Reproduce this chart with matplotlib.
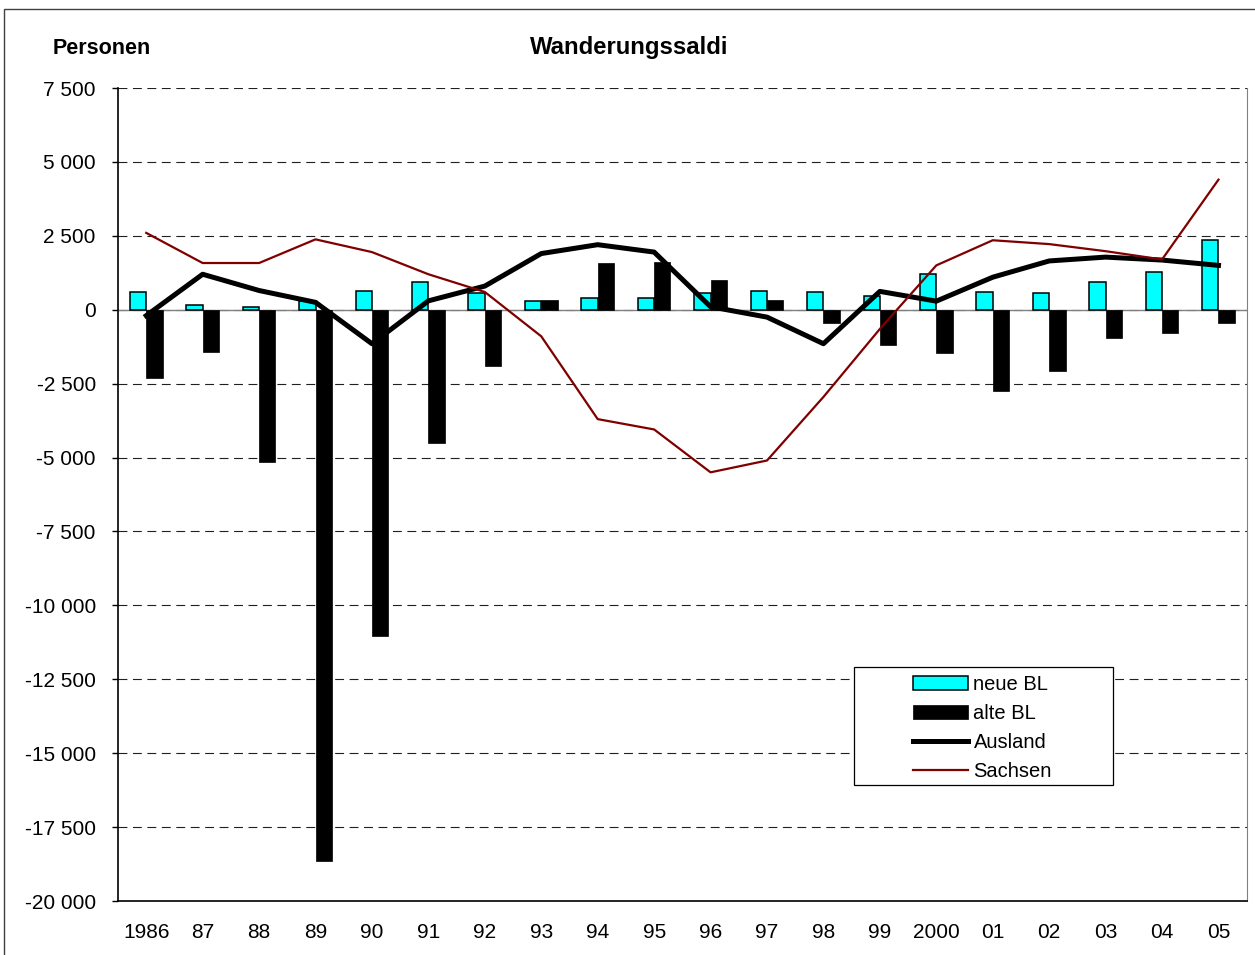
import numpy as np
import matplotlib
matplotlib.use("Agg")
import matplotlib.pyplot as plt
from matplotlib.patches import Rectangle
from matplotlib.ticker import FuncFormatter, MultipleLocator

plt.rcParams['font.family'] = ['Liberation Sans', 'DejaVu Sans']

# data
years = ["1986", "87", "88", "89", "90", "91", "92", "93", "94", "95",
         "96", "97", "98", "99", "2000", "01", "02", "03", "04", "05"]
neue_bl = [600, 150, 100, 300, 650, 950, 550, 300, 400, 380,
           550, 620, 600, 450, 1200, 600, 560, 940, 1260, 2350]
alte_bl = [-2300, -1430, -5150, -18650, -11030, -4510, -1900, 330, 1570, 1600,
           1000, 320, -450, -1200, -1450, -2750, -2080, -950, -800, -450]
ausland = [-200, 1200, 650, 250, -1150, 300, 800, 1900, 2200, 1950,
           100, -250, -1150, 620, 290, 1100, 1650, 1780, 1680, 1500]
sachsen = [2600, 1580, 1580, 2380, 1950, 1200, 600, -900, -3700, -4050,
           -5500, -5100, -2950, -650, 1500, 2350, 2220, 1980, 1700, 4400]

fig = plt.figure(figsize=(12.55, 9.55), dpi=100)
ax = fig.add_axes([118 / 1255, 1 - 901 / 955, 1128.7 / 1255, 813 / 955])

x = np.arange(len(years))
w = 0.29
b1 = ax.bar(x - w / 2, neue_bl, w, color='#00FFFF', edgecolor='black', linewidth=1.1,
            label='neue BL', zorder=2)
b2 = ax.bar(x + w / 2, alte_bl, w, color='black', edgecolor='black', linewidth=0.5,
            label='alte BL', zorder=2)
ax.axhline(0, color='#808080', lw=1.0, zorder=1.5)
l1, = ax.plot(x, ausland, color='black', lw=3.6, label='Ausland', zorder=3)
l2, = ax.plot(x, sachsen, color='#800000', lw=1.6, label='Sachsen', zorder=3.5)

ax.set_xlim(-0.5, len(years) - 0.5)
ax.set_ylim(-20000, 7500)
ax.yaxis.set_major_locator(MultipleLocator(2500))
ax.yaxis.set_major_formatter(FuncFormatter(lambda v, p: f"{v:,.0f}".replace(",", " ")))
ax.set_xticks(x)
ax.set_xticklabels(years)
ax.tick_params(axis='x', length=0, pad=16, labelsize=15)
ax.tick_params(axis='y', length=4, width=1, pad=12, labelsize=15, direction='out')

ax.set_axisbelow(True)
ax.grid(axis='y', color='#202020', lw=0.8, ls=(0, (8, 5)))
ax.spines['top'].set_visible(False)
ax.spines['right'].set_color('#808080')
ax.spines['left'].set_linewidth(1.2)
ax.spines['bottom'].set_linewidth(1.2)

# legend box drawn separately so the entries sit in the middle of it
ax.add_patch(Rectangle((0.652, 0.1427), 0.2296, 0.1451, transform=ax.transAxes,
                       facecolor='white', edgecolor='black', lw=0.9, zorder=4.5))
ax.legend([b1, b2, l1, l2], ['neue BL', 'alte BL', 'Ausland', 'Sachsen'],
          loc='upper left', bbox_to_anchor=(0.7044, 0.278), frameon=False,
          borderpad=0, borderaxespad=0, fontsize=14.5, handlelength=2.75,
          handletextpad=0.25, labelspacing=0.5)

fig.text(53 / 1255, 1 - 54 / 955, "Personen", fontsize=15.5, fontweight='bold',
         ha='left', va='baseline')
fig.text(629 / 1255, 1 - 54 / 955, "Wanderungssaldi", fontsize=17.2, fontweight='bold',
         ha='center', va='baseline')

fig.patches.append(Rectangle((4 / 1255, -0.02), 1.1, 1 - 9 / 955 + 0.02,
                             transform=fig.transFigure, fill=False,
                             edgecolor='#404040', lw=1.0))

fig.savefig("out.png", dpi=100)
